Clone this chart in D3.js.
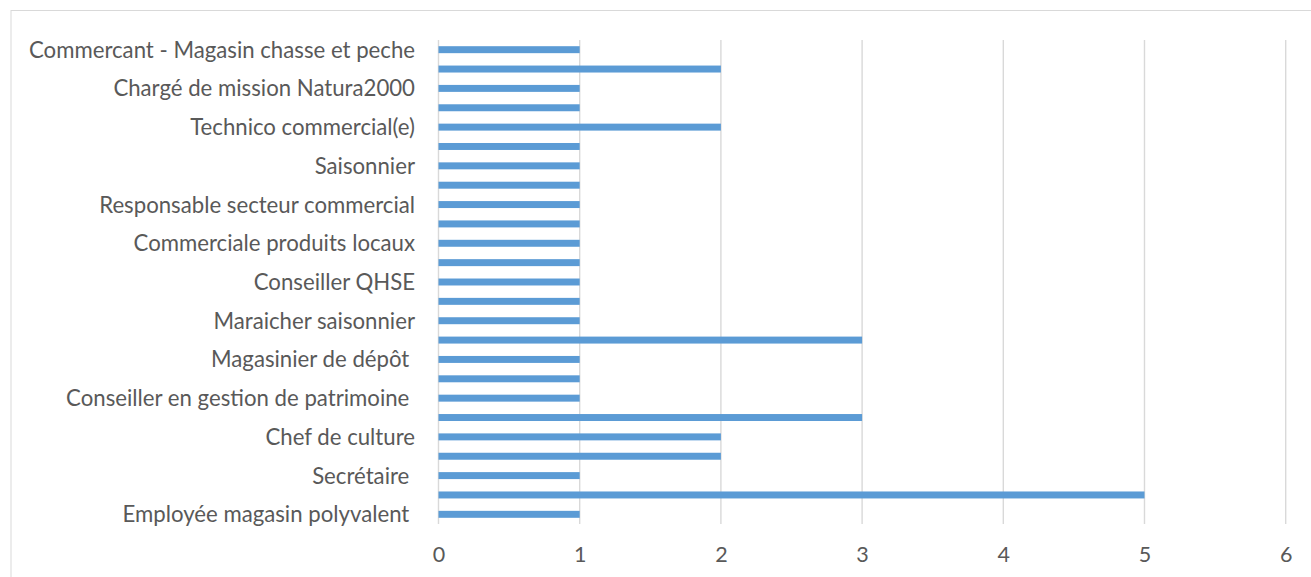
<!DOCTYPE html>
<html>
<head>
<meta charset="utf-8">
<script src="https://cdn.jsdelivr.net/npm/d3@7"></script>
<style>
  html, body { margin: 0; padding: 0; background: #fff; }
  svg { display: block; }
  text { font-family: Lato, "Open Sans", sans-serif; fill: #595959; white-space: pre; }
</style>
</head>
<body>
<svg id="chart" width="1311" height="577"></svg>
<script>
// Categories listed bottom-to-top (Excel order); blank entries are labels Excel skipped.
const categories = [
  "Employée magasin polyvalent ", "",
  "Secrétaire ", "",
  "Chef de culture", "",
  "Conseiller en gestion de patrimoine ", "",
  "Magasinier de dépôt ", "",
  "Maraicher saisonnier", "",
  "Conseiller QHSE", "",
  "Commerciale produits locaux", "",
  "Responsable secteur commercial", "",
  "Saisonnier", "",
  "Technico commercial(e)", "",
  "Chargé de mission Natura2000", "",
  "Commercant - Magasin chasse et peche"
];
const values = [1,5,1,2,2,3,1,1,1,3,1,1,1,1,1,1,1,1,1,1,2,1,1,2,1];
const xTicks = [0,1,2,3,4,5,6];

const svg = d3.select("#chart");
const W = 1311, H = 577;
const plotLeft = 438.5, plotRight = 1285.7, plotTop = 40, plotBottom = 524;

svg.append("rect").attr("x", 0).attr("y", 0).attr("width", W).attr("height", H).attr("fill", "#fff");
svg.append("rect").attr("x", 11).attr("y", 10.5).attr("width", W + 10).attr("height", H + 10)
  .attr("fill", "none").attr("stroke", "#D9D9D9").attr("stroke-width", 1);

const x = d3.scaleLinear().domain([0, 6]).range([plotLeft, plotRight]);
const idx = d3.range(categories.length);
const y = d3.scaleBand().domain(idx).range([plotBottom, plotTop]).paddingInner(0.64).paddingOuter(0.32);

// gridlines
svg.append("g").selectAll("line").data(xTicks).join("line")
  .attr("x1", d => x(d)).attr("x2", d => x(d))
  .attr("y1", plotTop).attr("y2", plotBottom)
  .attr("stroke", "#D9D9D9").attr("stroke-width", 1.4);

// bars
svg.append("g").selectAll("rect").data(values).join("rect")
  .attr("x", x(0))
  .attr("y", (d, i) => y(i))
  .attr("width", d => x(d) - x(0))
  .attr("height", y.bandwidth())
  .attr("fill", "#5B9BD5");

// y axis labels
const yAxis = d3.axisLeft(y).tickSize(0).tickPadding(0)
  .tickValues(idx.filter(i => categories[i] !== ""))
  .tickFormat(i => categories[i]);
const gy = svg.append("g").attr("transform", `translate(${415},0)`).call(yAxis);
gy.select(".domain").remove();
gy.selectAll("text").attr("font-size", 22.2).attr("font-family", "Lato, 'Open Sans', sans-serif")
  .attr("fill", "#595959").attr("x", 0).attr("dy", "0.36em");

// x axis
const xAxis = d3.axisBottom(x).tickValues(xTicks).tickSize(0).tickPadding(0).tickFormat(d3.format("d"));
const gx = svg.append("g").attr("transform", `translate(0,${547})`).call(xAxis);
gx.select(".domain").remove();
gx.selectAll("text").attr("font-size", 21.5).attr("font-family", "Lato, 'Open Sans', sans-serif")
  .attr("fill", "#595959").attr("dy", "0.71em");
</script>
</body>
</html>
